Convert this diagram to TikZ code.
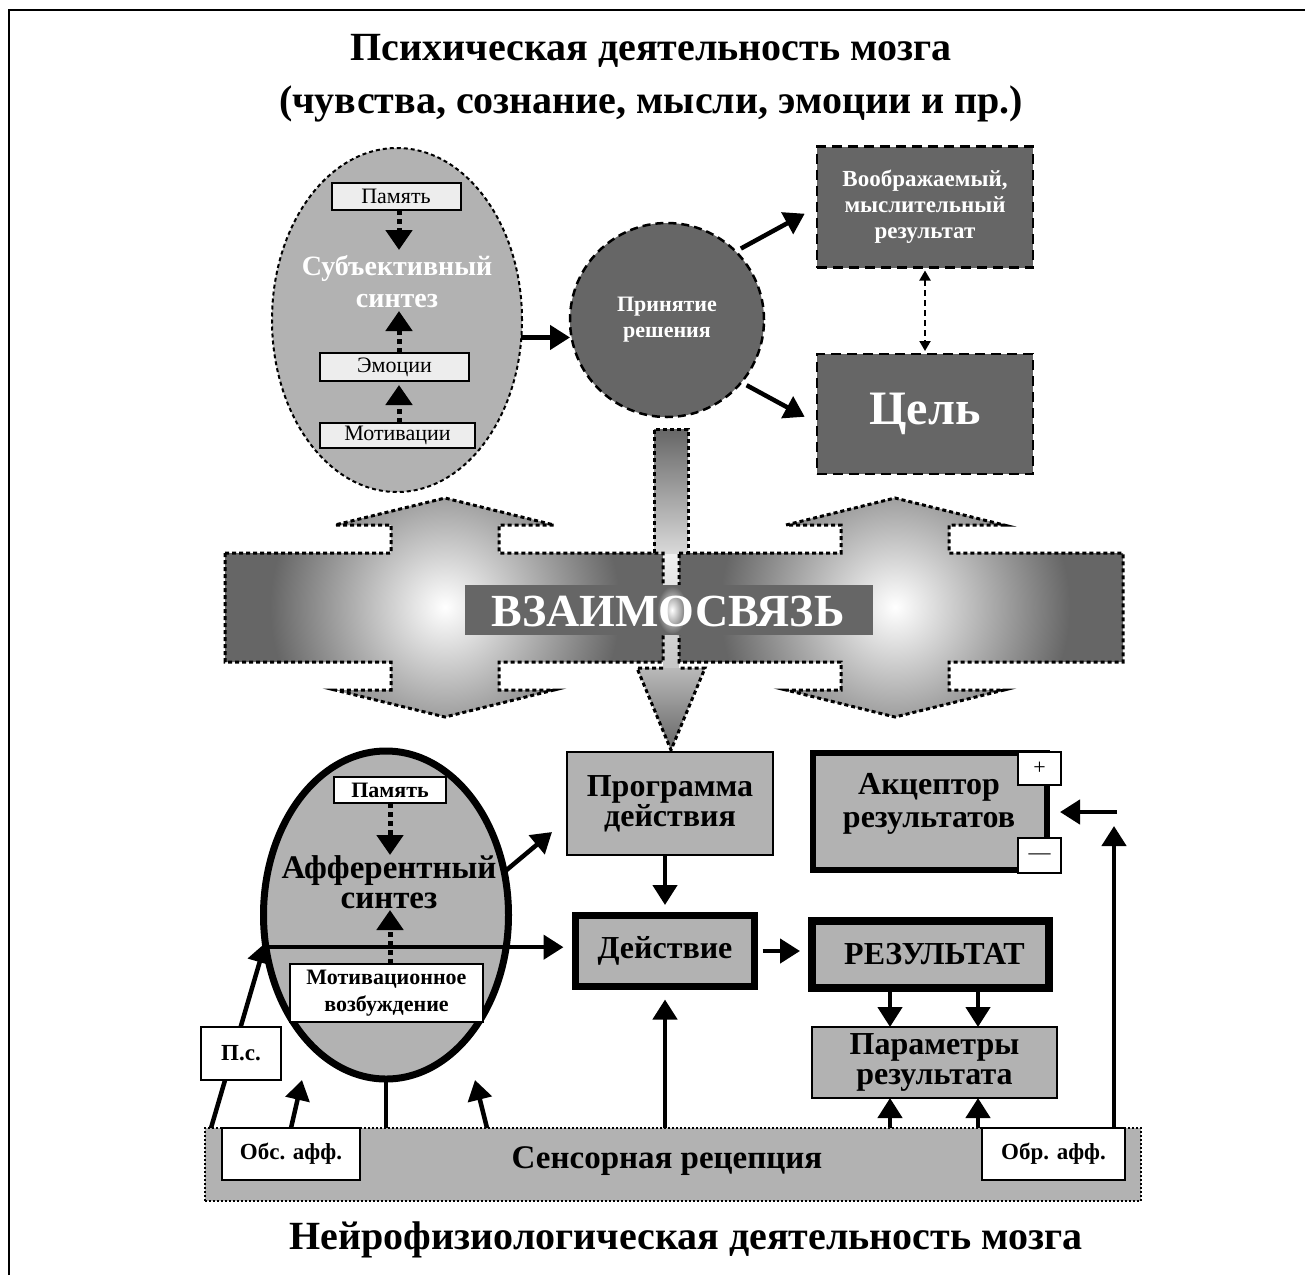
\documentclass[tikz,border=0pt]{standalone}
\usepackage{fontspec}
\setmainfont{Liberation Serif}
\usetikzlibrary{arrows.meta,shapes.geometric,calc}
\definecolor{dk}{HTML}{666666}
\definecolor{md}{HTML}{B2B2B2}
\definecolor{lt}{HTML}{EDEDED}
\def\pxu{0.5pt}
\def\leftshape{(225,553) -- (391,553) -- (391,525) -- (335,525) -- (445,498) -- (554,525) -- (499,525) -- (499,553) -- (663,553) -- (663,662) -- (499,662) -- (499,690) -- (554,690) -- (445,717) -- (335,690) -- (391,690) -- (391,662) -- (225,662) -- cycle}
\def\rightshape{(679,553) -- (841,553) -- (841,525) -- (786,525) -- (895,498) -- (1004,525) -- (949,525) -- (949,553) -- (1123,553) -- (1123,662) -- (949,662) -- (949,690) -- (1004,690) -- (895,717) -- (786,690) -- (841,690) -- (841,662) -- (679,662) -- cycle}
\tikzset{
 every node/.style={inner sep=0pt, outer sep=0pt, align=center},
 arr/.style={line width=2.25pt, -{Triangle[length=10pt,width=12pt]}},
 dotarr/.style={line width=2.5pt, dash pattern=on 2.5pt off 2pt, -{Triangle[length=10pt,width=13pt]}},
 dasharr/.style={line width=1pt, dash pattern=on 3pt off 2pt, {Triangle[length=5pt,width=5.5pt]}-{Triangle[length=5pt,width=5.5pt]}},
 gbox/.style={draw, fill=md, rectangle, font=\fontsize{16}{15}\selectfont\bfseries},
 wbox/.style={draw, fill=white, rectangle, line width=1.1pt, font=\fontsize{11.5}{13.5}\selectfont\bfseries},
 lbox/.style={draw, fill=lt, rectangle, line width=1pt, font=\fontsize{11}{12}\selectfont},
 dkbox/.style={draw, fill=dk, rectangle, line width=1.25pt, dash pattern=on 5pt off 3pt, text=white},
 bigdash/.style={line width=1.5pt, dash pattern=on 2pt off 1.5pt},
}
\begin{document}
\begin{tikzpicture}[x=0.5pt,y=-0.5pt]
\useasboundingbox (0,0) rectangle (1305,1275);
% frame
\draw[line width=1pt] (9,1275) -- (9,10) -- (1305,10);
% titles
\node[font=\fontsize{20}{26.5}\selectfont\bfseries] (title) at (651,78) {Психическая деятельность мозга\\(чувства, сознание, мысли, эмоции и пр.)};
\node[font=\fontsize{20}{24}\selectfont\bfseries] (btitle) at (686,1240) {Нейрофизиологическая деятельность мозга};

% ===== subjective synthesis =====
\node[ellipse, draw, fill=md, line width=1pt, dash pattern=on 2pt off 1.5pt, minimum width=250*\pxu, minimum height=344*\pxu] (subj) at (397,320) {};
\node[lbox, minimum width=129*\pxu, minimum height=27*\pxu] (pam1) at (396,196.5) {Память};
\node[lbox, minimum width=149*\pxu, minimum height=28*\pxu] (emo1) at (394.5,367) {Эмоции};
\node[lbox, minimum width=155*\pxu, minimum height=25*\pxu] (mot1) at (397.5,435.5) {Мотивации};
\node[font=\fontsize{14}{16}\selectfont\bfseries, text=white] (subjt) at (397,282) {Субъективный\\синтез};
\coordinate (s1) at (399,250);
\coordinate (s2) at (399,311);
\draw[dotarr] (pam1.south -| s1) -- (s1);
\draw[dotarr] (emo1.north -| s2) -- (s2);
\draw[dotarr, shorten >=2pt] (mot1.north -| s2) -- (emo1.south -| s2);

% decision circle and boxes
\node[circle, draw, fill=dk, line width=1.25pt, dash pattern=on 4pt off 2.5pt, minimum size=194*\pxu, text=white, font=\fontsize{11}{13}\selectfont\bfseries] (circ) at (667,320) {Принятие\\решения};
\node[dkbox, minimum width=216*\pxu, minimum height=121*\pxu, font=\fontsize{11.5}{13}\selectfont\bfseries] (vobr) at (925,207) {Воображаемый,\\мыслительный\\результат};
\node[dkbox, minimum width=216*\pxu, minimum height=120*\pxu, font=\fontsize{24}{28}\selectfont\bfseries] (goal) at (925,414) {Цель};
\draw[arr] (subj.-8) -- (subj.-8 -| circ.west);
\draw[arr, shorten <=3pt, shorten >=7pt] (circ.45) -- (vobr.west);
\draw[arr, shorten <=3pt, shorten >=7pt] (circ.-40) -- (goal.185);
\draw[dasharr, shorten <=1.5pt, shorten >=1.5pt] (vobr.south) -- (goal.north);

% ===== interconnection band =====
\fill[dk] \leftshape;
\begin{scope}
\clip \leftshape;
\shade[inner color=white, outer color=dk] (445,607) circle (175);
\end{scope}
\fill[dk] \rightshape;
\begin{scope}
\clip \rightshape;
\shade[inner color=white, outer color=dk] (895,607) circle (175);
\end{scope}
\shade[top color=gray!12, bottom color=gray!45] (663,553) rectangle (679,668);
\shade[top color=dk, bottom color=gray!30] (654,429) rectangle (688,553);
\shade[top color=gray!55, bottom color=dk] (637,668) -- (705,668) -- (671,750) -- cycle;
\draw[bigdash] \leftshape;
\draw[bigdash] \rightshape;
\draw[bigdash] (654,553) -- (654,429) -- (688,429) -- (688,553);
\draw[bigdash] (663,668) -- (637,668) -- (671,750) -- (705,668) -- (679,668);
\fill[dk] (465,585) rectangle (873,635);
\shade[inner color=white, outer color=dk] (672,610) ellipse (15 and 24);
\node[text=white, font=\fontsize{23}{24}\selectfont\bfseries] (vz) at (668,611) {ВЗАИМОСВЯЗЬ};

% ===== lower part =====
\node[draw, fill=md, line width=1pt, dash pattern=on 1pt off 1pt, minimum width=936*\pxu, minimum height=73*\pxu] (bar) at (673,1164.5) {};
\node[font=\fontsize{16.5}{18}\selectfont\bfseries] (sens) at (667,1161) {Сенсорная рецепция};

\node[ellipse, draw, fill=md, line width=3.5pt, minimum width=245*\pxu, minimum height=328*\pxu] (aff) at (386,915) {};
\node[font=\fontsize{16.5}{15}\selectfont\bfseries] (afft) at (389,882) {Афферентный\\синтез};
\node[wbox, minimum width=112*\pxu, minimum height=26*\pxu, font=\fontsize{11}{12}\selectfont\bfseries] (pam2) at (390,790) {Память};
\node[wbox, minimum width=193*\pxu, minimum height=58*\pxu, font=\fontsize{11}{13.5}\selectfont\bfseries] (motiv) at (386.5,993) {Мотивационное\\возбуждение};
\coordinate (a1) at (390,855);
\coordinate (a2) at (390,910);
\draw[dotarr] (pam2.south) -- (a1);
\draw[dotarr] (motiv.north -| a2) -- (a2);

\node[gbox, line width=1.25pt, minimum width=206*\pxu, minimum height=103*\pxu] (prog) at (670,803.5) {Программа\\действия};
\node[gbox, line width=3.5pt, minimum width=179*\pxu, minimum height=71*\pxu] (act) at (665,951) {Действие};
\node[gbox, line width=3pt, minimum width=234*\pxu, minimum height=117*\pxu] (akz) at (930,811.5) {};
\node[font=\fontsize{16}{16.5}\selectfont\bfseries] (akzt) at (929,804) {Акцептор\\результатов};
\node[wbox, line width=1pt, minimum width=43*\pxu, minimum height=33*\pxu, font=\fontsize{11}{12}\selectfont] (plus) at (1039.5,768.5) {+};
\node[wbox, line width=1pt, minimum width=43*\pxu, minimum height=35*\pxu, font=\fontsize{11}{12}\selectfont] (minus) at (1039.5,855.5) {\raisebox{-4pt}{—}};
\node[gbox, line width=4pt, minimum width=237*\pxu, minimum height=67*\pxu] (res) at (930.5,954.5) {\hspace*{4pt}РЕЗУЛЬТАТ};
\node[gbox, line width=1.25pt, minimum width=245*\pxu, minimum height=71*\pxu] (par) at (934.5,1062.5) {Параметры\\результата};

% arrows (lower)
\draw[arr] (aff.195) -- (aff.195 -| act.west) [shorten >=6pt];
\coordinate (t1) at (552,832);
\draw[arr] (aff.20) -- (t1);
\draw[arr, shorten >=5.25pt] (act.north |- prog.south) -- (act.north);
\draw[arr, shorten <=4pt, shorten >=6pt] (act.east) -- (act.east -| res.west);
\draw[arr, shorten >=6.5pt] (act.south |- bar.north) -- (act.south);
\coordinate (rx1) at ([xshift=-40.5*\pxu]res.south);
\coordinate (rx2) at ([xshift=47.5*\pxu]res.south);
\draw[arr] (rx1) -- (rx1 |- par.north);
\draw[arr] (rx2) -- (rx2 |- par.north);
\draw[arr] (rx1 |- bar.north) -- (rx1 |- par.south);
\draw[arr] (rx2 |- bar.north) -- (rx2 |- par.south);

% left side arrows
\draw[arr] ([xshift=6*\pxu]bar.north west) -- (aff.193);
\node[wbox, minimum width=80*\pxu, minimum height=53*\pxu] (ps) at (241,1053.5) {П.с.};
\node[wbox, minimum width=138*\pxu, minimum height=52*\pxu] (obs) at (291,1154) {Обс. афф.};
\node[wbox, minimum width=143*\pxu, minimum height=52*\pxu] (obr) at (1053.5,1154) {Обр. афф.};
\coordinate (t3) at (302,1080);
\draw[arr] (obs.north) -- (t3);
\draw[line width=2.25pt] (aff.south) -- (aff.south |- bar.north);
\coordinate (s4) at (487,1128);
\coordinate (t4) at (475,1080);
\draw[arr] (bar.north -| s4) -- (t4);

% feedback to acceptor
\coordinate (t5) at (1114,826);
\draw[arr] (obr.north -| t5) -- (t5);
\coordinate (t6) at (1117,812);
\draw[arr, shorten >=6.5pt] (t6) -- (t6 -| akz.east);
\end{tikzpicture}
\end{document}
